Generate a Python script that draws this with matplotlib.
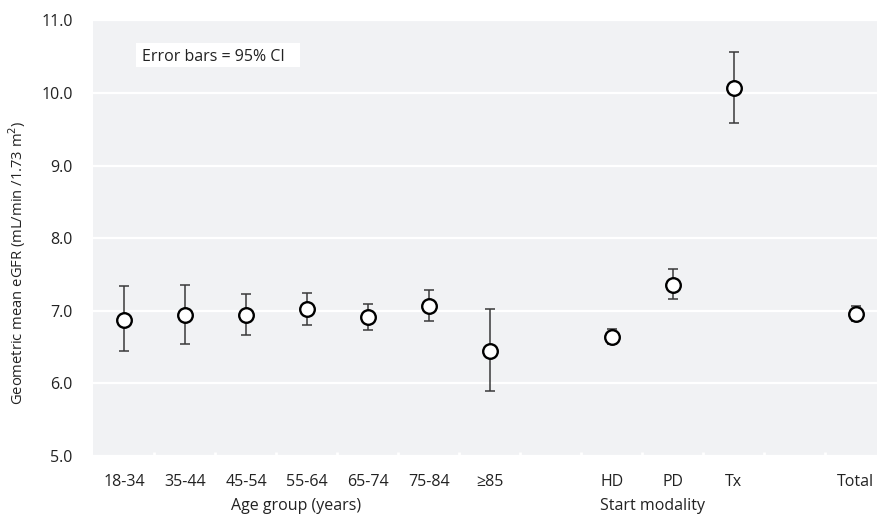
import matplotlib
matplotlib.use('Agg')
import matplotlib.pyplot as plt
from matplotlib.patches import Rectangle
import numpy as np

plt.rcParams['font.family'] = ['Open Sans', 'DejaVu Sans']

# categories, in slot order (None = empty spacer slot)
categories = ['18-34', '35-44', '45-54', '55-64', '65-74', '75-84', '\u226585',
              None, 'HD', 'PD', 'Tx', None, 'Total']
means = [6.88, 6.94, 6.94, 7.03, 6.92, 7.06, 6.44,
         None, 6.64, 7.36, 10.07, None, 6.96]
lower = [6.45, 6.54, 6.67, 6.81, 6.73, 6.86, 5.90,
         None, 6.54, 7.16, 9.59, None, 6.86]
upper = [7.34, 7.36, 7.23, 7.25, 7.10, 7.28, 7.02,
         None, 6.75, 7.57, 10.57, None, 7.06]

group_labels = ['Age group (years)', 'Start modality']
group_centers = [2.82, 8.67]

yticks = [5.0, 6.0, 7.0, 8.0, 9.0, 10.0, 11.0]

fig = plt.figure(figsize=(8.77, 5.15), dpi=100)
# the plot area runs a little past the right border, as in the source
ax = fig.add_axes([0.1066, 0.1146, 0.904, 0.8456])
ax.set_facecolor('#f1f2f4')

idx = [i for i, m in enumerate(means) if m is not None]
xs = np.array(idx, dtype=float)
ys = np.array([means[i] for i in idx])
lo = ys - np.array([lower[i] for i in idx])
hi = np.array([upper[i] for i in idx]) - ys

ax.errorbar(xs, ys, yerr=[lo, hi], fmt='none', ecolor='#3a3a3a',
            elinewidth=1.1, capsize=3.7, capthick=1.1, zorder=3)
ax.plot(xs, ys, 'o', ms=10.5, mfc='white', mec='black', mew=1.7, zorder=4)

ax.set_xlim(-0.5, len(categories) - 0.5)
ax.set_ylim(5.0, 11.0)
ax.set_yticks(yticks)
ax.set_yticklabels(['{:.1f}'.format(v) for v in yticks])
ax.set_xticks(range(len(categories)))
ax.set_xticklabels([c if c is not None else '' for c in categories])
ax.set_xticks(np.arange(0.5, len(categories) - 1, 1), minor=True)

ax.grid(axis='y', color='white', linewidth=1.6)
ax.set_axisbelow(True)
for s in ax.spines.values():
    s.set_visible(False)

ax.tick_params(axis='both', which='major', length=0, labelsize=11.5,
               colors='#222222')
ax.tick_params(axis='y', pad=15)
ax.tick_params(axis='x', pad=13)
ax.tick_params(axis='x', which='minor', direction='in', length=3,
               width=2, color='white')

for lbl, xc in zip(group_labels, group_centers):
    ax.text(xc, -0.115, lbl, transform=ax.get_xaxis_transform(),
            ha='center', va='center', fontsize=11.5, color='#222222')

ax.set_ylabel('Geometric mean eGFR (mL/min /1.73 m$^2$)', fontsize=10.6,
              color='#222222')
ax.yaxis.set_label_coords(-0.083, 0.445)

# white annotation box
ax.add_patch(Rectangle((0.0536, 0.893), 0.207, 0.055, transform=ax.transAxes,
                       facecolor='white', edgecolor='none', zorder=2))
ax.text(0.061, 0.916, 'Error bars = 95% CI', transform=ax.transAxes,
        ha='left', va='center', fontsize=11.5, color='#222222', zorder=3)

fig.savefig('out.png', dpi=100)
